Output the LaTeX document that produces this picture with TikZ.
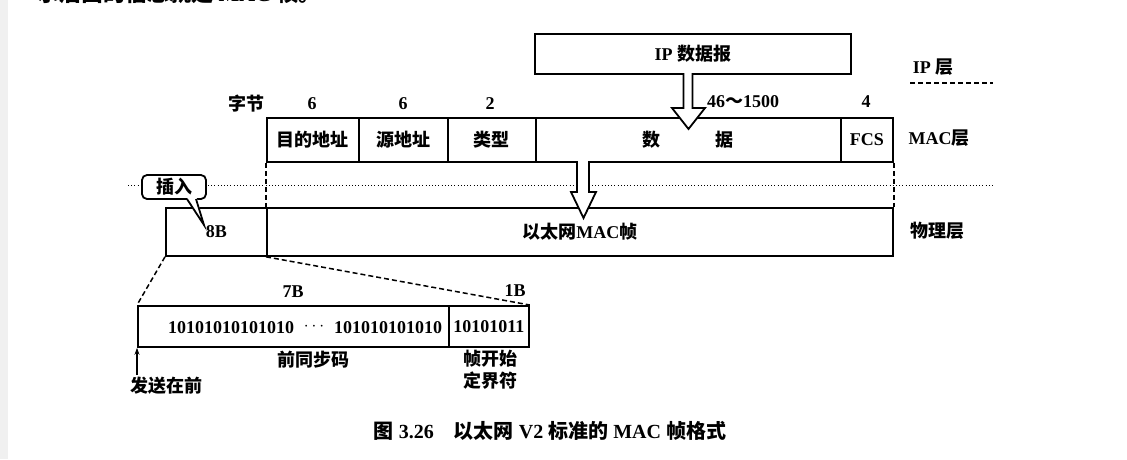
\documentclass[tikz,border=0pt]{standalone}
\usepackage{fontspec}
\setmainfont{Liberation Serif}
\newfontfamily\cjk{Noto Sans CJK SC}
\usetikzlibrary{arrows.meta}
\newcommand{\zh}[1]{{\cjk\bfseries #1}}
\begin{document}
\begin{tikzpicture}[x=1pt,y=-1pt,
  font=\fontsize{18}{20}\selectfont\bfseries,
  box/.style={draw, line width=1.8pt, inner sep=0pt, anchor=north west},
  lbl/.style={inner sep=0pt},
  dashline/.style={line width=1.5pt, dash pattern=on 5pt off 3pt},
  dotline/.style={line width=1pt, dash pattern=on 1pt off 2.2pt},
  hollow/.style={draw, fill=white, line width=1.8pt, line join=miter}]
\useasboundingbox (0,0) rectangle (1127,459);
\clip (0,0) rectangle (1127,459);
\fill[black!6] (0,0) rectangle (8,459);
% top cut-off line of book text
\node[lbl, anchor=base west, font=\fontsize{22}{24}\selectfont\bfseries] (top) at (37,1.5)
  {\zh{示后面的信息就是} MAC \zh{帧。}};
% dotted layer line
\draw[dotline] (128,185) -- (993,185);
% IP layer
\node[box, minimum width=316, minimum height=40] (ip) at (534,33) {IP \zh{数据报}};
\node[lbl] (iplayer) at (933,67) {IP \zh{层}};
\draw[dashline] (910,83) -- (993,83);
% byte labels
\node[lbl] (bytes) at (246,104) {\zh{字节}};
\node[lbl] (n1) at (312,104) {6};
\node[lbl] (n2) at (403,104) {6};
\node[lbl] (n3) at (490,104) {2};
\node[lbl] (n4) at (743,102) {46\zh{～}1500};
\node[lbl] (n5) at (866,102) {4};
% MAC frame
\node[box, minimum width=92, minimum height=44] (da) at (266,117) {\zh{目的地址}};
\node[box, minimum width=89, minimum height=44] (sa) at (358,117) {\zh{源地址}};
\node[box, minimum width=88, minimum height=44] (ty) at (447,117) {\zh{类型}};
\node[box, minimum width=305, minimum height=44] (data) at (535,117) {\zh{数}\hspace{55pt}\zh{据}};
\node[box, minimum width=52, minimum height=44] (fcs) at (840,117) {FCS};
\node[lbl] (maclayer) at (939,138) {MAC\zh{层}};
% physical layer frame
\node[box, minimum width=101, minimum height=48] (pre) at (165,207) {8B};
\node[box, minimum width=626, minimum height=48] (frame) at (266,207) {\zh{以太网}MAC\zh{帧}};
\node[lbl] (phylayer) at (937,231) {\zh{物理层}};
% dashed verticals
\draw[dashline] (da.south west) -- (frame.north west);
\draw[dashline] (fcs.south east) -- (frame.north east);
% hollow arrows
\draw[hollow] (683.5,73) -- (683.5,108) -- (672,108) -- (688.5,129) -- (705,108) -- (692.5,108) -- (692.5,73);
\draw[hollow] (577,161) -- (577,192) -- (571,192) -- (583.5,218) -- (596,192) -- (589,192) -- (589,161);
% callout
\node[draw, line width=1.8pt, rounded corners=5pt, fill=white, minimum width=64, minimum height=24, inner sep=0pt] (ins) at (174,187) {\zh{插入}};
\fill[white] (186.5,197) -- (204,225) -- (196.5,197) -- cycle;
\draw[line width=1.8pt, line join=miter] (187,199) -- (204,225) -- (196,199);
% preamble detail
\node[box, minimum width=311, minimum height=41] (sync) at (137,305) {};
\node[box, minimum width=80, minimum height=41] (sfd) at (448,305) {10101011};
\node[lbl] (g1) at (231,328) {10101010101010};
\node[lbl] (dots) at (314,327) {$\cdots$};
\node[lbl] (g2) at (388,328) {101010101010};
\node[lbl] (b7) at (293,292) {7B};
\node[lbl] (b1) at (515,291) {1B};
\draw[dashline] (pre.south west) -- (sync.north west);
\draw[dashline] (frame.south west) -- (sfd.north east);
\node[lbl] (prelbl) at (313,360) {\zh{前同步码}};
\node[lbl, align=center] (sfdlbl) at (490,370) {\zh{帧开始}\\[2pt]\zh{定界符}};
\coordinate (sendstart) at (137,375);
\draw[line width=1.5pt, -{Stealth[length=7pt,width=5pt]}] (sendstart) -- (sync.south west);
\node[lbl] (send) at (166,386) {\zh{发送在前}};
% caption
\node[lbl, font=\fontsize{20}{22}\selectfont\bfseries] (cap) at (550,431) {\zh{图} 3.26\hspace{1em}\zh{以太网} V2 \zh{标准的} MAC \zh{帧格式}};
\end{tikzpicture}
\end{document}
